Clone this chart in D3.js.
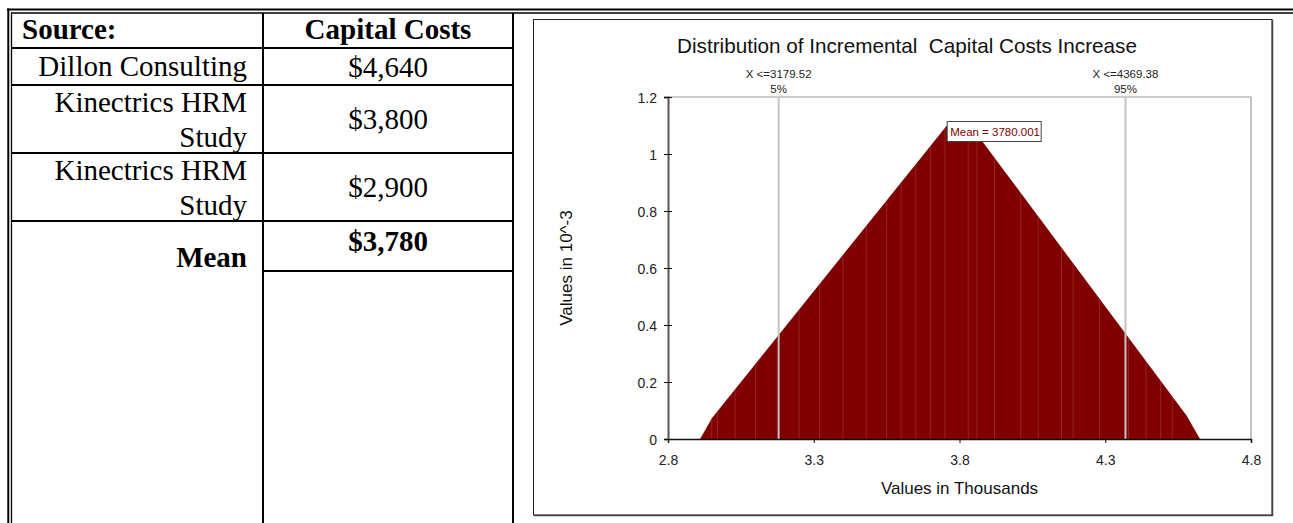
<!DOCTYPE html>
<html>
<head>
<meta charset="utf-8">
<script src="https://cdn.jsdelivr.net/npm/d3@7.9.0/dist/d3.min.js"></script>
<style>
  body { margin: 0; background: #fff; }
  svg { display: block; }
  .serif { font-family: "Liberation Serif", "Times New Roman", serif; fill: #000; }
  .sans { font-family: "Liberation Sans", Arial, sans-serif; }
</style>
</head>
<body>
<svg id="page" width="1293" height="523"></svg>
<script>
// table data
const sourceLines = [["Dillon Consulting"], ["Kinectrics HRM", "Study"], ["Kinectrics HRM", "Study"]];
const capitalCosts = [4640, 3800, 2900];
const meanCost = 3780;

// distribution (x in thousands, density in 10^-3)
const distX = [2.910, 2.951, 3.769, 3.826, 4.580, 4.625];
const distDensity = [0, 0.074, 1.116, 1.116, 0.081, 0];
// faint bin gaps visible inside the fill
const gapX = [2.95, 2.97, 3.03, 3.10, 3.25, 3.32, 3.40, 3.48, 3.55, 3.60, 3.65, 3.70, 3.75,
  3.83, 3.86, 3.92, 4.01, 4.07, 4.15, 4.19, 4.28, 4.38, 4.44, 4.49, 4.53];
const xTicks = [2.8, 3.3, 3.8, 4.3, 4.8];
const yTicks = [0, 0.2, 0.4, 0.6, 0.8, 1, 1.2];
const pctLabels = ["5%", "95%"];
const pctValues = [3179.52, 4369.38];
const meanValue = 3780.001;

const svg = d3.select('#page');
const fmt = d3.format('$,');
const FS = 29;

// ---- table ----
const colDiv = 262, tblLeft = 11, tblRight = 512;
const rowLines = [48, 85, 153, 221];

// outer double borders
svg.append('line').attr('x1', 7).attr('x2', 1293).attr('y1', 9.5).attr('y2', 9.5)
  .attr('stroke', '#000').attr('stroke-width', 2);
svg.append('line').attr('x1', 11).attr('x2', 1293).attr('y1', 13).attr('y2', 13)
  .attr('stroke', '#000').attr('stroke-width', 1.5);
svg.append('line').attr('x1', 8.3).attr('x2', 8.3).attr('y1', 8.5).attr('y2', 523)
  .attr('stroke', '#000').attr('stroke-width', 2);
svg.append('line').attr('x1', 11.5).attr('x2', 11.5).attr('y1', 12.3).attr('y2', 523)
  .attr('stroke', '#000').attr('stroke-width', 1.3);

[colDiv, tblRight].forEach(x => {
  svg.append('line').attr('x1', x + 1).attr('x2', x + 1).attr('y1', 13).attr('y2', 523)
    .attr('stroke', '#000').attr('stroke-width', 2);
});
rowLines.forEach(y => {
  svg.append('line').attr('x1', tblLeft).attr('x2', tblRight + 2).attr('y1', y).attr('y2', y)
    .attr('stroke', '#000').attr('stroke-width', 2);
});
svg.append('line').attr('x1', colDiv).attr('x2', tblRight + 2).attr('y1', 271).attr('y2', 271)
  .attr('stroke', '#000').attr('stroke-width', 2);

const valCenter = (colDiv + tblRight) / 2 + 1;
const textRight = 247;

svg.append('text').attr('class', 'serif').attr('x', 22).attr('y', 39)
  .attr('font-size', FS).attr('font-weight', 'bold').text('Source:');
svg.append('text').attr('class', 'serif').attr('x', valCenter).attr('y', 39)
  .attr('font-size', FS).attr('font-weight', 'bold').attr('text-anchor', 'middle').text('Capital Costs');

const rowTops = [48, 85, 153];
sourceLines.forEach((lines, i) => {
  const top = rowTops[i];
  const bottom = rowLines[i + 1];
  if (lines.length === 1) {
    svg.append('text').attr('class', 'serif').attr('x', textRight).attr('y', top + 28)
      .attr('font-size', FS).attr('text-anchor', 'end').text(lines[0]);
  } else {
    lines.forEach((l, j) => {
      svg.append('text').attr('class', 'serif').attr('x', textRight).attr('y', top + 27 + j * 35)
        .attr('font-size', FS).attr('text-anchor', 'end').text(l);
    });
  }
  svg.append('text').attr('class', 'serif').attr('x', valCenter).attr('y', (top + bottom) / 2 + 10)
    .attr('font-size', FS).attr('text-anchor', 'middle').text(fmt(capitalCosts[i]));
});

svg.append('text').attr('class', 'serif').attr('x', textRight).attr('y', 267)
  .attr('font-size', FS).attr('font-weight', 'bold').attr('text-anchor', 'end').text('Mean');
svg.append('text').attr('class', 'serif').attr('x', valCenter).attr('y', 251)
  .attr('font-size', FS).attr('font-weight', 'bold').attr('text-anchor', 'middle').text(fmt(meanCost));

// ---- chart ----
svg.append('rect').attr('x', 533.5).attr('y', 19.5).attr('width', 738.5).attr('height', 495.5)
  .attr('fill', '#fff').attr('stroke', '#222').attr('stroke-width', 1);
svg.append('path').attr('d', 'M1272.5,20V515.5H534').attr('fill', 'none')
  .attr('stroke', '#444').attr('stroke-width', 1.5);

const x = d3.scaleLinear().domain([2.8, 4.8]).range([668, 1251]);
const y = d3.scaleLinear().domain([0, 1.2]).range([439, 97]);

svg.append('text').attr('class', 'sans').attr('x', 907).attr('y', 53)
  .attr('font-size', 20.7).attr('text-anchor', 'middle').attr('fill', '#111')
  .style('white-space', 'pre')
  .text('Distribution of Incremental  Capital Costs Increase');

// plot frame (top / right)
svg.append('path')
  .attr('d', `M${x(2.8)},${y(1.2)}H${x(4.8)}V${y(0)}`)
  .attr('fill', 'none').attr('stroke', '#9a9a9a').attr('stroke-width', 1.2);

// distribution area
const pts = distX.map((d, i) => [d, distDensity[i]]);
const area = d3.area()
  .x(d => x(d[0]))
  .y0(y(0))
  .y1(d => y(d[1]));
svg.append('clipPath').attr('id', 'distClip')
  .append('path').datum(pts).attr('d', area);
svg.append('path').datum(pts).attr('d', area).attr('fill', '#800000');
svg.append('g').attr('clip-path', 'url(#distClip)')
  .selectAll('line').data(gapX).join('line')
  .attr('x1', d => x(d)).attr('x2', d => x(d))
  .attr('y1', y(1.2)).attr('y2', y(0))
  .attr('stroke', '#b05050').attr('stroke-opacity', 0.45).attr('stroke-width', 1);

// percentile markers
pctValues.forEach((v, i) => {
  const px = x(v / 1000);
  svg.append('line').attr('x1', px).attr('x2', px).attr('y1', y(1.2)).attr('y2', y(0))
    .attr('stroke', '#c4c4c4').attr('stroke-width', 2);
  svg.append('text').attr('class', 'sans').attr('x', px).attr('y', 78)
    .attr('font-size', 11.5).attr('text-anchor', 'middle').attr('fill', '#222')
    .text('X <=' + v.toFixed(2));
  svg.append('text').attr('class', 'sans').attr('x', px).attr('y', 93)
    .attr('font-size', 11.5).attr('text-anchor', 'middle').attr('fill', '#222')
    .text(pctLabels[i]);
});

// x axis
const xAxis = svg.append('g').attr('transform', `translate(0,${y(0)})`)
  .call(d3.axisBottom(x).tickValues(xTicks).tickFormat(d3.format('.1f')).tickSizeOuter(0).tickSize(4));
xAxis.select('.domain').attr('stroke', '#111').attr('stroke-width', 1.5);
xAxis.selectAll('.tick line').attr('stroke', '#111');
xAxis.selectAll('.tick text').attr('y', 26).attr('dy', 0)
  .attr('font-family', '"Liberation Sans", Arial, sans-serif').attr('font-size', 14).attr('fill', '#222');

// y axis
const yAxis = svg.append('g').attr('transform', `translate(${x(2.8)},0)`)
  .call(d3.axisLeft(y).tickValues(yTicks).tickFormat(d3.format('~g')).tickSizeOuter(0).tickSize(4));
yAxis.select('.domain').attr('stroke', '#555').attr('stroke-width', 2);
yAxis.selectAll('.tick line').attr('x1', 4).attr('stroke', '#111');
yAxis.selectAll('.tick text').attr('x', -11).attr('dy', '0.36em')
  .attr('font-family', '"Liberation Sans", Arial, sans-serif').attr('font-size', 14).attr('fill', '#222');

// mean label
const mx = x(meanValue / 1000) - 7, my = y(1.2) + 24;
svg.append('rect').attr('x', mx + 0.5).attr('y', my + 0.5).attr('width', 94).attr('height', 20)
  .attr('fill', '#fff').attr('stroke', '#444').attr('stroke-width', 1);
svg.append('text').attr('class', 'sans').attr('x', mx + 3.5).attr('y', my + 15)
  .attr('font-size', 11.5).attr('fill', '#800000').text('Mean = ' + meanValue.toFixed(3));

// axis titles
svg.append('text').attr('class', 'sans').attr('x', (x(2.8) + x(4.8)) / 2).attr('y', 494)
  .attr('font-size', 17).attr('text-anchor', 'middle').attr('fill', '#111').text('Values in Thousands');
svg.append('text').attr('class', 'sans')
  .attr('transform', `translate(572,${(y(0) + y(1.2)) / 2}) rotate(-90)`)
  .attr('font-size', 17).attr('text-anchor', 'middle').attr('fill', '#111').text('Values in 10^-3');
</script>
</body>
</html>
